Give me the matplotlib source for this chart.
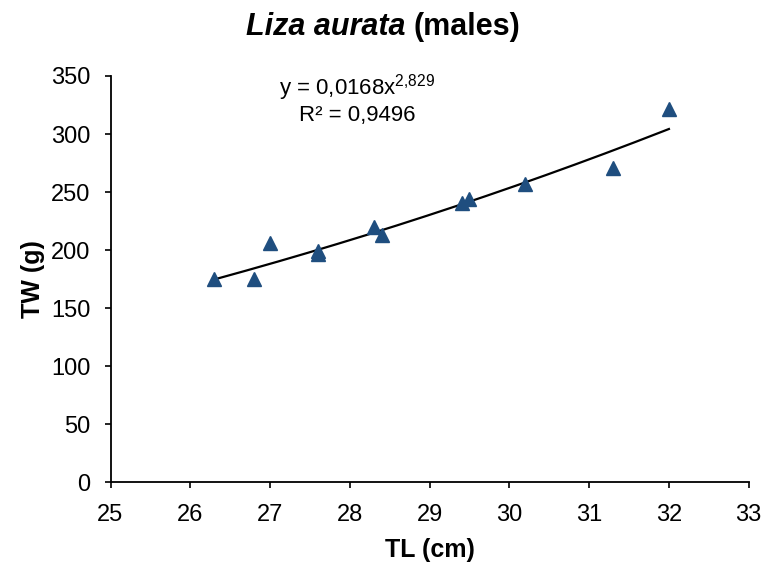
import numpy as np
import matplotlib
matplotlib.use("Agg")
import matplotlib.pyplot as plt

# data
tl_cm = [26.3, 26.8, 27.0, 27.6, 27.6, 28.3, 28.4, 29.4, 29.5, 30.2, 31.3, 32.0]
tw_g = [175, 175, 206, 199, 197, 220, 213, 241, 244, 257, 271, 322]

# power trend line from the chart
coef_a = 0.0168
coef_b = 2.829

x_ticks = [25, 26, 27, 28, 29, 30, 31, 32, 33]
y_ticks = [0, 50, 100, 150, 200, 250, 300, 350]

plt.rcParams['font.family'] = ['Liberation Sans', 'DejaVu Sans']
plt.rcParams['mathtext.fontset'] = 'custom'
plt.rcParams['mathtext.rm'] = 'Liberation Sans'
plt.rcParams['mathtext.it'] = 'Liberation Sans:italic'

fig = plt.figure(figsize=(7.64, 5.65), dpi=100)
ax = fig.add_axes([110.5 / 764, 1 - 482.3 / 565, (748.7 - 110.5) / 764, (482.3 - 76) / 565])

# trend line
xs = np.linspace(min(tl_cm), max(tl_cm), 200)
ax.plot(xs, coef_a * xs ** coef_b, color='black', linewidth=1.6, zorder=2)

# points
ax.plot(tl_cm, tw_g, linestyle='none', marker='^', markersize=10.5,
        color='#1F4E7F', zorder=3)

ax.set_xlim(25, 33)
ax.set_ylim(0, 350)
ax.set_xticks(x_ticks)
ax.set_yticks(y_ticks)

for side in ['top', 'right']:
    ax.spines[side].set_visible(False)
for side in ['left', 'bottom']:
    ax.spines[side].set_linewidth(1.3)
ax.tick_params(axis='both', direction='out', length=4.5, width=1.2, labelsize=17, colors='black')
ax.tick_params(axis='x', pad=11)
ax.tick_params(axis='y', pad=10)

ax.set_xlabel('TL (cm)', fontsize=18, fontweight='bold', labelpad=9)
ax.set_ylabel('TW (g)', fontsize=18, fontweight='bold', labelpad=4)

# equation text
ax.text(0.387, 0.955, r'y = 0,0168x$^{2{,}829}$', transform=ax.transAxes,
        fontsize=16, ha='center', va='baseline')
ax.text(0.387, 0.89, 'R² = 0,9496', transform=ax.transAxes,
        fontsize=16, ha='center', va='baseline')

# title: italic species name + bold plain part, centred together
fig.canvas.draw()
renderer = fig.canvas.get_renderer()
t1 = fig.text(0, 1 - 35 / 565, 'Liza aurata ', fontsize=22, fontweight='bold',
              fontstyle='italic', va='baseline')
t2 = fig.text(0, 1 - 35 / 565, '(males)', fontsize=22, fontweight='bold', va='baseline')
w1 = t1.get_window_extent(renderer).width / 764
w2 = t2.get_window_extent(renderer).width / 764
x0 = 383 / 764 - (w1 + w2) / 2
t1.set_x(x0)
t2.set_x(x0 + w1)

fig.savefig('out.png', dpi=100)
